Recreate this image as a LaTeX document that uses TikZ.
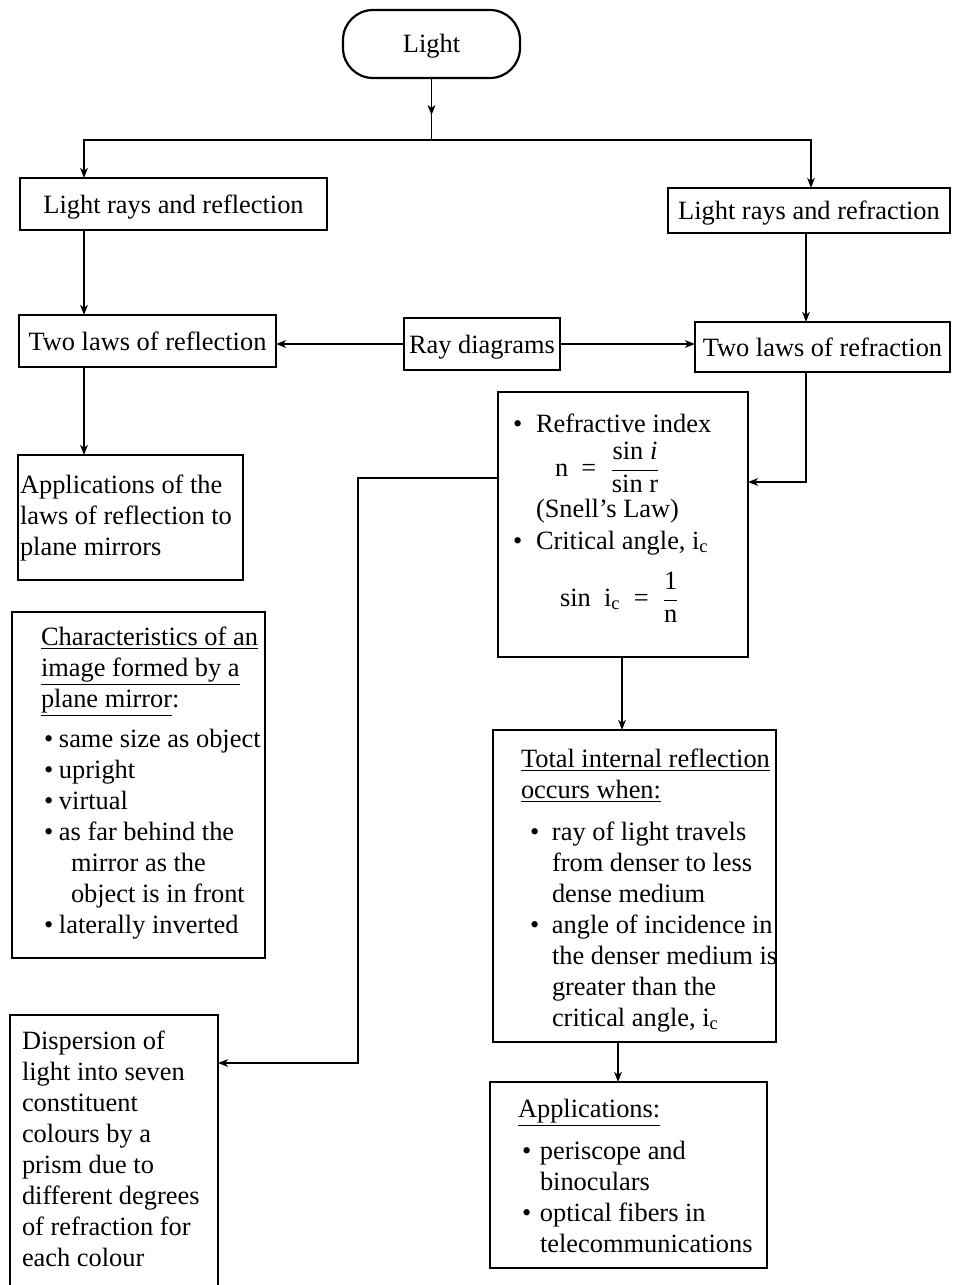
\documentclass[tikz,border=0pt]{standalone}
\usepackage{fontspec}
\setmainfont{Liberation Serif}
\usetikzlibrary{arrows.meta,decorations.markings}

% bullet with a leading indent and a fixed slot width
\newcommand{\mapbul}[2]{\hspace*{#1}\makebox[#2][l]{\textbullet}}

\begin{document}
\begin{tikzpicture}[x=0.5pt,y=-0.5pt,
  every node/.style={font=\fontsize{13.2}{15.5}\selectfont, inner sep=0pt, outer sep=0pt},
  box/.style={draw, line width=1.1pt, rectangle, text height=9pt, text depth=0pt},
  pill/.style={draw, line width=1.1pt, rounded corners=15pt, text height=9pt, text depth=0pt},
  txt/.style={anchor=base west, align=left},
  block/.style={anchor=north west, align=left},
  maptip/.tip={Stealth[length=5pt,width=3.8pt,inset=1.4pt]},
  link/.style={line width=0.9pt, -maptip},
  midtip/.style={line width=0.9pt, postaction=decorate,
    decoration={markings, mark=at position 0.6 with {\arrow{maptip}}}}]

\useasboundingbox (0,0) rectangle (955,1285);
\clip (0,0) rectangle (955,1285);

% ---- boxes ----
\node[pill, minimum width=88.5pt, minimum height=34pt] (light) at (431.5,44) {Light};
\node[box, minimum width=153.5pt, minimum height=26pt] (lrr) at (173.5,204) {Light rays and reflection};
\node[box, minimum width=141pt, minimum height=22.5pt] (lrf) at (809,210.5) {Light rays and refraction};
\node[box, minimum width=128.5pt, minimum height=26pt] (tlr) at (147.5,341) {Two laws of reflection};
\node[box, minimum width=78pt, minimum height=26pt] (rd) at (482,344) {Ray diagrams};
\node[box, minimum width=127.5pt, minimum height=25pt] (tlf) at (822.5,347) {Two laws of refraction};
\node[box, minimum width=112.5pt, minimum height=62.5pt] (apl) at (130.5,517.5) {};
\node[box, minimum width=126.5pt, minimum height=173pt] (chr) at (138.5,785) {};
\node[box, minimum width=125pt, minimum height=132.5pt] (ri) at (623,524.5) {};
\node[box, minimum width=141.5pt, minimum height=156pt] (tir) at (634.5,886) {};
\node[box, minimum width=138.5pt, minimum height=93pt] (app) at (628.5,1175) {};
\node[box, minimum width=104pt, minimum height=140pt] (dsp) at (114,1155) {};

% ---- box texts (first line carries a strut so the top sits at baseline - 0.7 baselineskip) ----
\node[block] (apl-t) at (20,471.3) {\strut Applications of the\\laws of reflection to\\plane mirrors};

\node[block] (chr-t) at (41,623.3) {\strut\underline{Characteristics of an}\\
\underline{image formed by a}\\
\underline{plane mirror}:\\[4.5pt]
\mapbul{1.5pt}{7.5pt}same size as object\\
\mapbul{1.5pt}{7.5pt}upright\\
\mapbul{1.5pt}{7.5pt}virtual\\
\mapbul{1.5pt}{7.5pt}as far behind the\\
\hspace*{15pt}mirror as the\\
\hspace*{15pt}object is in front\\
\mapbul{1.5pt}{7.5pt}laterally inverted};

\node[txt] (ri-b1) at (513,432) {\textbullet};
\node[txt] (ri-l1) at (536,432) {Refractive index};
\node[txt] (ri-f1) at (555,476) {n\enspace=\enspace$\displaystyle\frac{\mbox{sin \textit{i}}}{\mbox{sin r}}$};
\node[txt] (ri-l2) at (536,517) {(Snell's Law)};
\node[txt] (ri-b2) at (513,549) {\textbullet};
\node[txt] (ri-l3) at (536,549) {Critical angle, i\textsubscript{c}};
\node[txt] (ri-f2) at (560,606) {sin\enspace i\textsubscript{c}\enspace=\enspace$\displaystyle\frac{\mbox{1}}{\mbox{n}}$};

\node[block] (tir-t) at (521,745.3) {\strut\underline{Total internal reflection}\\
\underline{occurs when:}\\[5.5pt]
\mapbul{4.5pt}{11pt}ray of light travels\\
\hspace*{15.5pt}from denser to less\\
\hspace*{15.5pt}dense medium\\
\mapbul{4.5pt}{11pt}angle of incidence in\\
\hspace*{15.5pt}the denser medium is\\
\hspace*{15.5pt}greater than the\\
\hspace*{15.5pt}critical angle, i\textsubscript{c}};

\node[block] (app-t) at (518,1095.3) {\strut\underline{Applications:}\\[5.5pt]
\mapbul{2pt}{9pt}periscope and\\
\hspace*{11pt}binoculars\\
\mapbul{2pt}{9pt}optical fibers in\\
\hspace*{11pt}telecommunications};

\node[block] (dsp-t) at (22,1027.3) {\strut Dispersion of\\light into seven\\constituent\\colours by a\\prism due to\\different degrees\\of refraction for\\each colour};

% ---- routing points ----
\coordinate (jn) at (431.5,140);
\coordinate (colL) at (84,0);
\coordinate (colR) at (811,0);
\coordinate (colR2) at (806,0);
\coordinate (colM) at (358,0);
\coordinate (colC) at (622,0);
\coordinate (colD) at (618,0);
\coordinate (rowA) at (0,482);
\coordinate (rowB) at (0,478);
\coordinate (rowC) at (0,1063);

% ---- connectors ----
\draw[midtip] (light.south) -- (jn);
\draw[link] (jn) -| (colL |- lrr.north);
\draw[link] (jn) -| (colR |- lrf.north);
\draw[link] (colL |- lrr.south) -- (colL |- tlr.north);
\draw[link] (colR2 |- lrf.south) -- (colR2 |- tlf.north);
\draw[link] (rd.west) -- (rd.west -| tlr.east);
\draw[link] (rd.east) -- (rd.east -| tlf.west);
\draw[link] (colL |- tlr.south) -- (colL |- apl.north);
\draw[link] (colR2 |- tlf.south) |- (ri.east |- rowA);
\draw[link] (ri.west |- rowB) -| (colM |- rowC) -- (dsp.east |- rowC);
\draw[link] (colC |- ri.south) -- (colC |- tir.north);
\draw[link] (colD |- tir.south) -- (colD |- app.north);

\end{tikzpicture}
\end{document}
